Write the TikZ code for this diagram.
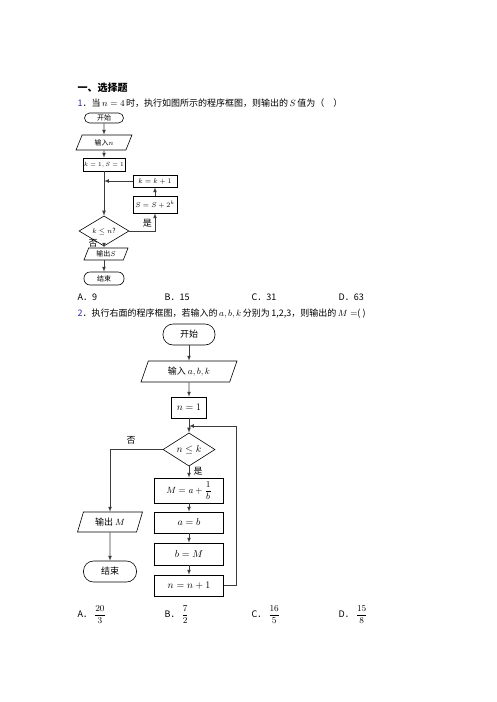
\documentclass[tikz,border=0pt]{standalone}
\usepackage{fontspec}
\usepackage{amsmath}
\usepackage{xcolor}
\usetikzlibrary{shapes.geometric}
\setmainfont{Noto Sans CJK SC}

\definecolor{numblue}{RGB}{40,50,170}
\definecolor{linegray}{RGB}{60,60,60}

\tikzset{
    term/.style={draw, rounded corners=5pt, inner sep=0pt},
    io/.style={draw, trapezium, trapezium left angle=68, trapezium right angle=112,
        trapezium stretches=true, inner sep=0pt},
    proc/.style={draw, rectangle, inner sep=0pt},
    decide/.style={draw, diamond, inner sep=0pt},
    flow/.style={draw=linegray, ->, >=latex, line width=0.7pt},
    small/.style={font=\fontsize{7}{8}\selectfont},
    tiny/.style={font=\fontsize{6.3}{7}\selectfont},
    big/.style={font=\fontsize{9}{10}\selectfont},
    bigmath/.style={font=\fontsize{10}{11}\selectfont}
}

\begin{document}
\begin{tikzpicture}[x=1pt, y=-1pt, line width=0.6pt]

    \useasboundingbox (0,0) rectangle (496,702);

    % Title and question 1
    \node[anchor=west, font=\fontsize{10}{12}\selectfont\bfseries] (title) at (74,88) {一、选择题};
    \node[anchor=west, font=\fontsize{9}{11}\selectfont] (q1) at (74,103)
        {\textcolor{numblue}{1}．当\,$n=4$\,时，执行如图所示的程序框图，则输出的\,$S$\,值为（\quad ）};

    % First flow chart
    \begin{scope}[small]
    \node[term, minimum width=39, minimum height=10] (start1) at (104,118) {开始};
    \node[io, minimum width=56, minimum height=15] (in1) at (104,142.5) {输入$n$};
    \node[proc, tiny, minimum width=42, minimum height=13] (init1) at (104,164.5) {$k=1,S=1$};
    \node[proc, minimum width=44, minimum height=12] (inc1) at (155,181) {$k=k+1$};
    \node[proc, minimum width=44, minimum height=17] (sum1) at (155,204.5) {$S=S+2^k$};
    \node[decide, minimum width=50, minimum height=18] (dec1) at (104,231) {$k\le n$?};
    \node[io, minimum width=44, minimum height=12] (out1) at (106,254) {输出$S$};
    \node[term, minimum width=40, minimum height=13, rounded corners=6pt] (end1) at (104,278.5) {结束};
    \end{scope}

    \draw[flow] (start1) -- (in1);
    \draw[flow] (in1) -- (init1);
    \draw[flow] (init1) -- (dec1);
    \draw[flow] (inc1.west) -- (inc1.west -| init1.south);
    \draw[flow] (sum1) -- (inc1);
    \draw[flow] (dec1.east) -| node[pos=0.35, above, big] {是} (sum1.south);
    \draw[flow] (dec1.south) -- (out1.north -| dec1.south);
    \node[big] (no1) at (93,243.5) {否};
    \draw[flow] (out1.south -| end1.north) -- (end1);

    % Answers of question 1
    \begin{scope}[font=\fontsize{9}{11}\selectfont]
    \node[anchor=west] (a1) at (74,297) {A．9};
    \node[anchor=west] (b1) at (161,297) {B．15};
    \node[anchor=west] (c1) at (248,297) {C．31};
    \node[anchor=west] (d1) at (335,297) {D．63};
    \end{scope}

    % Question 2
    \node[anchor=west, font=\fontsize{9}{11}\selectfont] (q2) at (74,314)
        {\textcolor{numblue}{2}．执行右面的程序框图，若输入的\,$a,b,k$\,分别为\,1,2,3，则输出的\,$M=$( )};

    % Second flow chart
    \begin{scope}[big]
    \node[term, minimum width=52, minimum height=21, rounded corners=10pt] (start2) at (189,334.5) {开始};
    \node[io, minimum width=96, minimum height=21] (in2) at (189,371.5) {输入\ $a,b,k$};
    \node[proc, bigmath, minimum width=35, minimum height=21] (init2) at (189,407.5) {$n=1$};
    \node[decide, bigmath, minimum width=52, minimum height=27] (dec2) at (189,449.5) {$n\le k$};
    \node[proc, minimum width=69, minimum height=25] (calc2) at (189,490.5) {$M=a+\dfrac{1}{b}$};
    \node[proc, bigmath, minimum width=69, minimum height=21] (ab2) at (189,522.5) {$a=b$};
    \node[proc, bigmath, minimum width=69, minimum height=22] (bm2) at (189,554) {$b=M$};
    \node[proc, bigmath, minimum width=69, minimum height=21] (step2) at (189,585.5) {$n=n+1$};
    \node[io, minimum width=65, minimum height=20] (out2) at (110,522) {输出\ $M$};
    \node[term, minimum width=53, minimum height=21, rounded corners=10pt] (end2) at (110,571.5) {结束};
    \end{scope}

    \coordinate (back) at (189,426);
    \coordinate (corner) at (236,426);

    \draw[flow] (start2) -- (in2);
    \draw[flow] (in2) -- (init2);
    \draw[flow] (init2) -- (dec2);
    \draw[flow] (dec2) -- node[pos=0.4, right=1pt, big] {是} (calc2);
    \draw[flow] (calc2) -- (ab2);
    \draw[flow] (ab2) -- (bm2);
    \draw[flow] (bm2) -- (step2);
    \draw[flow] (step2.east) -| (corner) -- (back);
    \draw[flow] (dec2.west) -| node[pos=0.3, above=2pt, big] {否} (out2.north);
    \draw[flow] (out2) -- (end2);

    % Answers of question 2
    \begin{scope}[font=\fontsize{9}{11}\selectfont]
    \node[anchor=west] (a2) at (74,615) {A．\ $\dfrac{20}{3}$};
    \node[anchor=west] (b2) at (161,615) {B．\ $\dfrac{7}{2}$};
    \node[anchor=west] (c2) at (248,615) {C．\ $\dfrac{16}{5}$};
    \node[anchor=west] (d2) at (335,615) {D．\ $\dfrac{15}{8}$};
    \end{scope}

\end{tikzpicture}
\end{document}
